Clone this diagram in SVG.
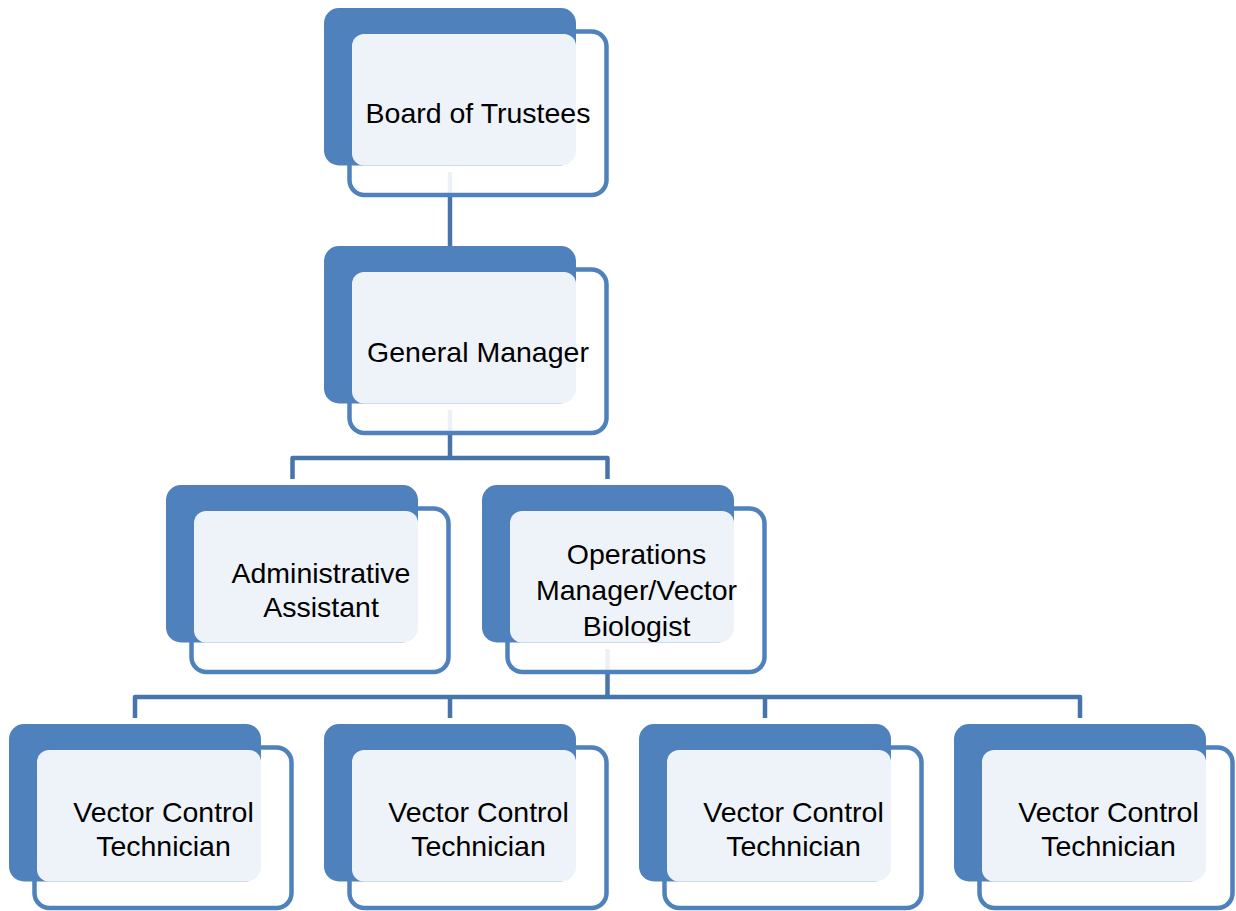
<svg xmlns="http://www.w3.org/2000/svg" width="1236" height="911" viewBox="0 0 1236 911">
<style>
.back{fill:#4F81BD}
.front{fill:#FFFFFF;fill-opacity:0.9;stroke:#4F81BD;stroke-width:4.5}
.light{fill:#FFFFFF;fill-opacity:0.9}
.conn{fill:none;stroke:#4874AC;stroke-width:4.5;stroke-linejoin:round}
text{font-family:"Liberation Sans",Arial,sans-serif;font-size:28.5px;fill:#000;text-anchor:middle}
</style>
<rect width="1236" height="911" fill="#FFFFFF"/>
<g id="connectors">
<path class="conn" d="M450 172 V246"/>
<path class="conn" d="M450 410 V458 M292.5 479 V458 H607.5 V479"/>
<path class="conn" d="M607.5 649 V697 M135 718 V697 H1080 V718 M450 697 V718 M765 697 V718"/>
</g>
<g id="board">
<rect class="front" x="349.5" y="31.5" width="257" height="163.5" rx="15"/>
<rect class="back" x="324" y="8" width="252" height="157.5" rx="15"/>
<rect class="light" x="352" y="34" width="224" height="131.5" rx="12"/>
<text x="478" y="123">Board of Trustees</text>
</g>
<g id="general-manager">
<rect class="front" x="349.5" y="269.5" width="257" height="163.5" rx="15"/>
<rect class="back" x="324" y="246" width="252" height="157.5" rx="15"/>
<rect class="light" x="352" y="272" width="224" height="131.5" rx="12"/>
<text x="478" y="362">General Manager</text>
</g>
<g id="admin-assistant">
<rect class="front" x="191.5" y="508.5" width="257" height="163.5" rx="15"/>
<rect class="back" x="166" y="485" width="252" height="157.5" rx="15"/>
<rect class="light" x="194" y="511" width="224" height="131.5" rx="12"/>
<text x="321" y="583">Administrative</text>
<text x="321" y="617">Assistant</text>
</g>
<g id="operations-manager">
<rect class="front" x="507.5" y="508.5" width="257" height="163.5" rx="15"/>
<rect class="back" x="482" y="485" width="252" height="157.5" rx="15"/>
<rect class="light" x="510" y="511" width="224" height="131.5" rx="12"/>
<text x="636.5" y="564">Operations</text>
<text x="636.5" y="600">Manager/Vector</text>
<text x="636.5" y="636">Biologist</text>
</g>
<g id="technician-1">
<rect class="front" x="34.5" y="747.5" width="257" height="160.5" rx="15"/>
<rect class="back" x="9" y="724" width="252" height="157.5" rx="15"/>
<rect class="light" x="37" y="750" width="224" height="131.5" rx="12"/>
<text x="163.5" y="822">Vector Control</text>
<text x="163.5" y="856">Technician</text>
</g>
<g id="technician-2">
<rect class="front" x="349.5" y="747.5" width="257" height="160.5" rx="15"/>
<rect class="back" x="324" y="724" width="252" height="157.5" rx="15"/>
<rect class="light" x="352" y="750" width="224" height="131.5" rx="12"/>
<text x="478.5" y="822">Vector Control</text>
<text x="478.5" y="856">Technician</text>
</g>
<g id="technician-3">
<rect class="front" x="664.5" y="747.5" width="257" height="160.5" rx="15"/>
<rect class="back" x="639" y="724" width="252" height="157.5" rx="15"/>
<rect class="light" x="667" y="750" width="224" height="131.5" rx="12"/>
<text x="793.5" y="822">Vector Control</text>
<text x="793.5" y="856">Technician</text>
</g>
<g id="technician-4">
<rect class="front" x="979.5" y="747.5" width="253" height="160.5" rx="15"/>
<rect class="back" x="954" y="724" width="252" height="157.5" rx="15"/>
<rect class="light" x="982" y="750" width="224" height="131.5" rx="12"/>
<text x="1108.5" y="822">Vector Control</text>
<text x="1108.5" y="856">Technician</text>
</g>
</svg>
